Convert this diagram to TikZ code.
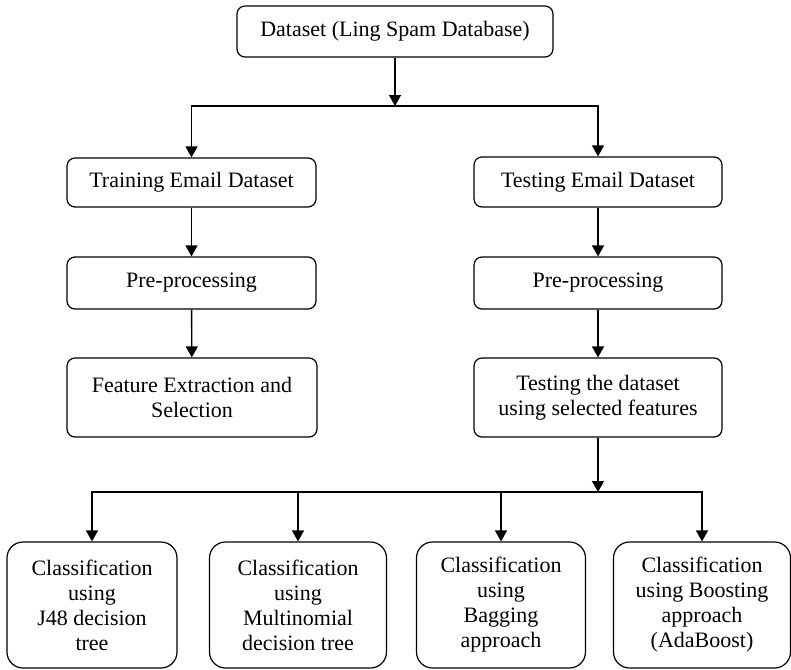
\documentclass[tikz,border=0pt]{standalone}
\usepackage{fontspec}
\setmainfont{Liberation Serif}
\usetikzlibrary{arrows.meta,positioning}
\tikzset{
  flowbox/.style={draw,rounded corners=8pt,line width=1.2pt,align=center,
    inner sep=0pt,font=\fontsize{22}{25}\selectfont},
  classbox/.style={flowbox,rounded corners=16pt,minimum height=126pt},
  flowarrow/.style={-{Triangle[width=12pt,length=11pt]},line width=1.4pt},
}

\begin{document}
\begin{tikzpicture}[x=1pt,y=-1pt]
    \useasboundingbox (0,0) rectangle (791,669);
    \node[flowbox,minimum width=316pt,minimum height=51pt] (dataset) at (395,31.5) {Dataset (Ling Spam Database)};
    \node[flowbox,minimum width=249pt,minimum height=49pt] (train) at (191.5,182.5) {Training Email Dataset};
    \node[flowbox,minimum width=248pt,minimum height=50pt] (test) at (598,182) {Testing Email Dataset};
    \node[flowbox,minimum width=249pt,minimum height=52pt] (prepL) at (191.5,283) {Pre-processing};
    \node[flowbox,minimum width=248pt,minimum height=52pt] (prepR) at (598,283) {Pre-processing};
    \node[flowbox,minimum width=250pt,minimum height=79pt] (feature) at (192,397.5) {Feature Extraction and\\Selection};
    \node[flowbox,minimum width=248pt,minimum height=79pt] (testsel) at (598,397.5) {Testing the dataset\\using selected features};
    \foreach \n/\x/\w/\txt in {clsA/92/170/{Classification\\using\\J48 decision\\tree},
        clsB/298/177/{Classification\\using\\Multinomial\\decision tree},
        clsC/501/169/{Classification\\using\\Bagging\\approach},
        clsD/702/177/{Classification\\using Boosting\\approach\\(AdaBoost)}}{
      \node[classbox,minimum width=\w pt] (\n) at (\x,605) {\txt};
    }
    % branch points
    \coordinate (splitA) at (395,106);
    \coordinate (splitB) at (598,492);
    \draw[flowarrow] (dataset) -- (splitA);
    \draw[flowarrow] (splitA) -| (train);
    \draw[flowarrow] (splitA) -| (test);
    \draw[flowarrow] (train) -- (prepL);
    \draw[flowarrow] (prepL) -- (feature);
    \draw[flowarrow] (test) -- (prepR);
    \draw[flowarrow] (prepR) -- (testsel);
    \draw[flowarrow] (testsel) -- (splitB);
    \foreach \n in {clsA,clsB,clsC,clsD}{
      \draw[flowarrow] (splitB) -| (\n);
    }
  \end{tikzpicture}
\end{document}
